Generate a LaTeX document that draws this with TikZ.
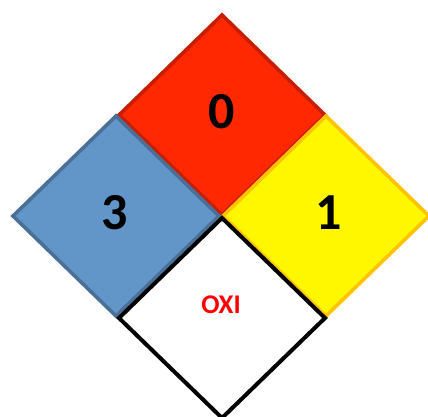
\documentclass[tikz,border=0pt]{standalone}
\usepackage{fontspec}
\setmainfont{Carlito}
\definecolor{redfill}{RGB}{255,40,0}
\definecolor{redline}{RGB}{200,30,0}
\definecolor{bluefill}{RGB}{98,149,200}
\definecolor{blueline}{RGB}{74,112,152}
\definecolor{yelfill}{RGB}{255,247,0}
\definecolor{yelline}{RGB}{255,195,0}
\definecolor{oxired}{RGB}{255,0,0}
\begin{document}
\begin{tikzpicture}[x=1pt,y=-1pt,
  diam/.style={line width=3.6pt,line join=miter},
  digit/.style={font=\fontsize{52}{52}\selectfont\bfseries,text=black,inner sep=0pt},
  oxi/.style={font=\fontsize{27}{27}\selectfont\bfseries,text=oxired,inner sep=0pt}]
\useasboundingbox (0,0) rectangle (428,417);
\def\h{103}\def\v{100}
% red
\filldraw[diam,fill=redfill,draw=redline] (222,115)++(0,-\v) -- ++(\h,\v) -- ++(-\h,\v) -- ++(-\h,-\v) -- cycle;
% blue
\filldraw[diam,fill=bluefill,draw=blueline] (116,216)++(0,-\v) -- ++(\h,\v) -- ++(-\h,\v) -- ++(-\h,-\v) -- cycle;
% yellow
\filldraw[diam,fill=yelfill,draw=yelline] (326,216)++(0,-\v) -- ++(\h,\v) -- ++(-\h,\v) -- ++(-\h,-\v) -- cycle;
% white
\filldraw[diam,fill=white,draw=black,line width=4pt] (222,318)++(0,-\v) -- ++(\h,\v) -- ++(-\h,\v) -- ++(-\h,-\v) -- cycle;
\node[digit] (n0) at (222,112) {0};
\node[digit] (n3) at (115,213) {3};
\node[digit] (n1) at (329,213) {1};
\node[oxi] (ox) at (221,305) {OXI};
\end{tikzpicture}
\end{document}
